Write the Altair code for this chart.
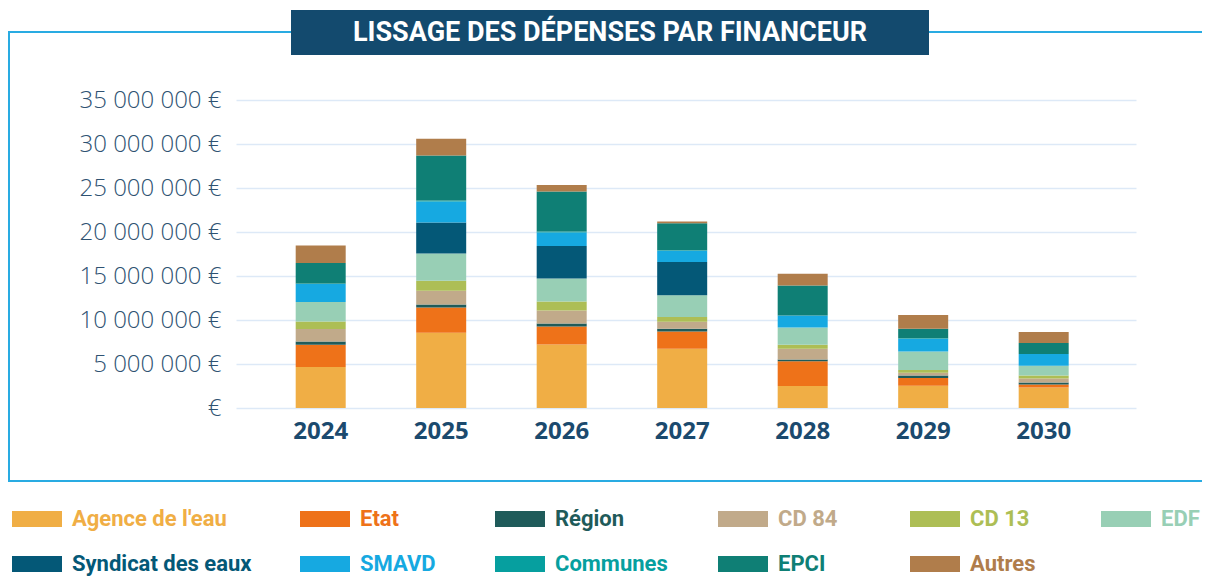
import altair as alt
import pandas as pd

years = ["2024", "2025", "2026", "2027", "2028", "2029", "2030"]
funders = ["Agence de l'eau", "Etat", "Région", "CD 84", "CD 13", "EDF",
           "Syndicat des eaux", "SMAVD", "Communes", "EPCI", "Autres"]
colors = ["#f0ae45", "#ee7219", "#1f5b5a", "#c1aa8a", "#adbe55", "#98cfb5",
          "#045877", "#16a9e1", "#069f9f", "#0f7f75", "#b07d4b"]

# values in millions of euros
agence = [4.66, 8.56, 7.23, 6.74, 2.50, 2.53, 2.34]
etat = [2.53, 2.87, 2.04, 1.96, 2.80, 0.88, 0.34]
region = [0.38, 0.34, 0.34, 0.31, 0.22, 0.29, 0.23]
cd84 = [1.41, 1.56, 1.48, 0.80, 1.22, 0.31, 0.45]
cd13 = [0.86, 1.14, 1.02, 0.53, 0.45, 0.31, 0.34]
edf = [2.21, 3.10, 2.62, 2.46, 1.97, 2.11, 1.11]
syndicat = [0.0, 3.52, 3.68, 3.79, 0.0, 0.0, 0.0]
smavd = [2.04, 2.39, 1.54, 1.29, 1.36, 1.45, 1.33]
communes = [0.05, 0.10, 0.10, 0.05, 0.0, 0.05, 0.0]
epci = [2.34, 5.12, 4.55, 3.07, 3.41, 1.08, 1.25]
autres = [2.00, 1.90, 0.74, 0.20, 1.33, 1.56, 1.25]

series = [agence, etat, region, cd84, cd13, edf, syndicat, smavd, communes, epci, autres]

rows = []
for i, (name, vals) in enumerate(zip(funders, series)):
    for y, v in zip(years, vals):
        rows.append({"year": y, "funder": name, "idx": i, "value": v * 1_000_000})
df = pd.DataFrame(rows)

legend_df = pd.DataFrame({
    "name": funders,
    "idx": list(range(len(funders))),
    "col": [i % 6 for i in range(len(funders))],
    "row": [i // 6 for i in range(len(funders))],
})
one_row = pd.DataFrame({"k": [0]})

color_scale = alt.Scale(domain=funders, range=colors)
COND = "Roboto, sans-serif"

frame = alt.Chart(one_row).mark_rect(fillOpacity=0, stroke="#29abe2", strokeWidth=2).encode(
    x=alt.value(-227), x2=alt.value(1100), y=alt.value(-68), y2=alt.value(381))

title_box = alt.Chart(one_row).mark_rect(fill="#134a6e").encode(
    x=alt.value(55), x2=alt.value(693), y=alt.value(-90), y2=alt.value(-45))

title_text = alt.Chart(one_row).mark_text(
    text="LISSAGE DES DÉPENSES PAR FINANCEUR", color="white", font=COND,
    fontSize=27, fontWeight="bold", align="center", baseline="middle").encode(
    x=alt.value(374), y=alt.value(-67))

bars = alt.Chart(df).mark_bar().encode(
    x=alt.X("year:N", sort=years,
            scale=alt.Scale(paddingInner=0.585, paddingOuter=0.527, align=0.47),
            axis=alt.Axis(title=None, labelAngle=0, domain=False, ticks=False,
                          labelFont="Open Sans", labelFontSize=24, labelFontWeight="bold",
                          labelColor="#1b4a6e", labelPadding=11)),
    y=alt.Y("value:Q", stack="zero",
            scale=alt.Scale(domain=[0, 35_000_000], nice=False),
            axis=alt.Axis(title=None, values=[0, 5e6, 10e6, 15e6, 20e6, 25e6, 30e6, 35e6],
                          labelExpr="datum.value == 0 ? '€' : format(datum.value / 1000000, 'd') + ' 000 000 €'",
                          domain=False, ticks=False, labelPadding=15,
                          labelFont="Open Sans", labelFontSize=24, labelFontWeight=300,
                          labelColor="#2e5272", gridColor="#dde9f7", gridWidth=1.5)),
    color=alt.Color("funder:N", scale=color_scale, legend=None),
    order=alt.Order("idx:Q", sort="ascending"),
)

lx = alt.X("col:Q", scale=alt.Scale(domain=[0, 1, 2, 3, 4, 5],
                                     range=[-199, 89, 284, 507, 699, 890]), axis=None)
ly = alt.Y("row:Q", scale=alt.Scale(domain=[0, 1], range=[419, 464]), axis=None)

swatch = alt.Chart(legend_df).mark_rect(width=50, height=16).encode(
    x=lx, y=ly, color=alt.Color("name:N", scale=color_scale, legend=None))

ltext = alt.Chart(legend_df).mark_text(
    align="left", baseline="middle", dx=35, font=COND, fontSize=22, fontWeight="bold").encode(
    x=lx, y=ly, text="name:N", color=alt.Color("name:N", scale=color_scale, legend=None))

chart = alt.layer(frame, title_box, title_text, bars, swatch, ltext).resolve_scale(
    x="independent", y="independent"
).properties(
    width=900, height=308,
    padding={"left": 228, "top": 92, "right": 66, "bottom": 168},
    autosize=alt.AutoSizeParams(type="none"),
    background="white",
).configure_view(stroke=None)

chart.save("out.html", embed_options={"renderer": "svg", "actions": False})
